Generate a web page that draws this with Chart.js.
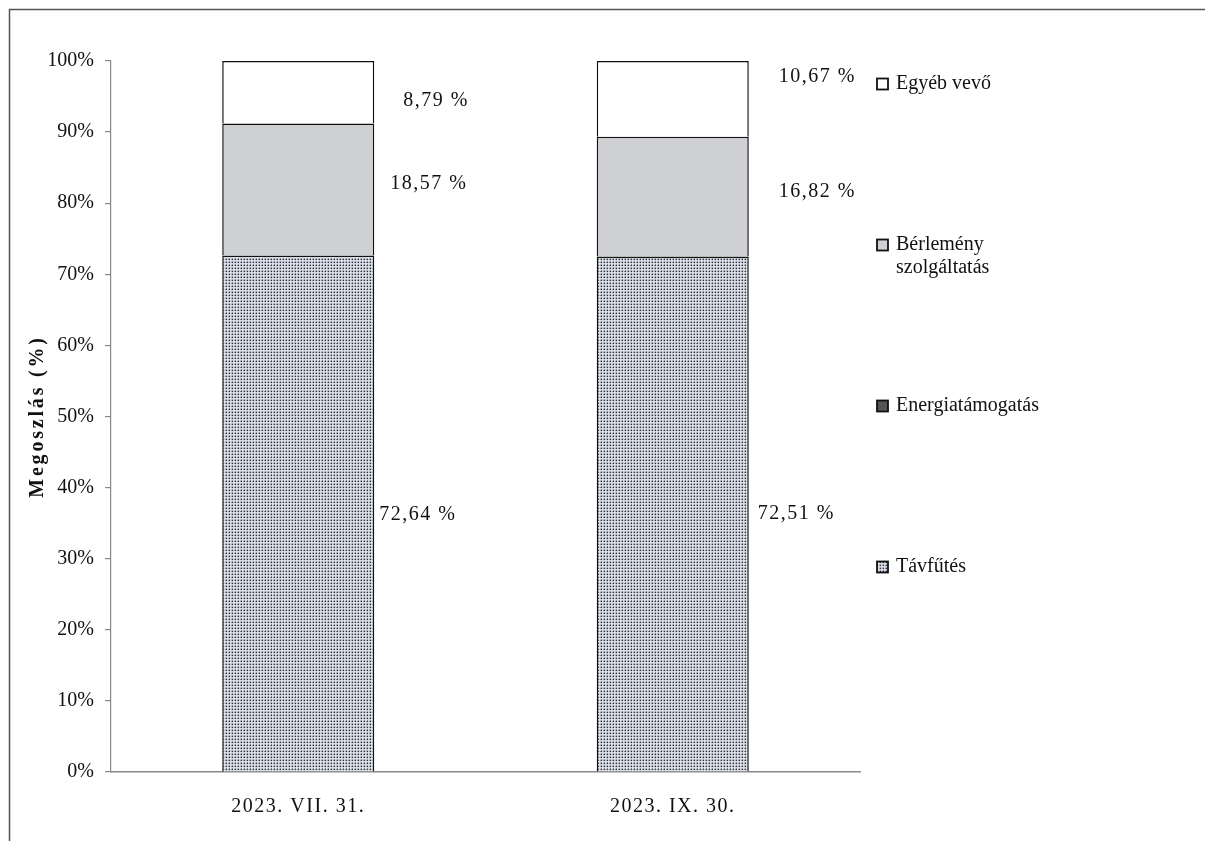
<!DOCTYPE html>
<html>
<head>
<meta charset="utf-8">
<script src="https://cdn.jsdelivr.net/npm/chart.js@4.4.0/dist/chart.umd.min.js"></script>
<style>
html,body{margin:0;padding:0;background:#fff;}
#wrap{position:relative;width:1205px;height:841px;}
</style>
</head>
<body>
<div id="wrap"><canvas id="c" width="1205" height="841"></canvas></div>
<script>
const categories = ['2023. VII. 31.', '2023. IX. 30.'];
const tavfutes = [72.64, 72.51];
const energiatamogatas = [0, 0];
const berlemeny = [18.57, 16.82];
const egyeb = [8.79, 10.67];
const valueLabels = {
  tavfutes: ['72,64 %', '72,51 %'],
  berlemeny: ['18,57 %', '16,82 %'],
  egyeb: ['8,79 %', '10,67 %']
};
const legendNames = [['Egyéb vevő'], ['Bérlemény', 'szolgáltatás'], ['Energiatámogatás'], ['Távfűtés']];
const yTicks = [0,10,20,30,40,50,60,70,80,90,100];

const FONT = '"Liberation Serif", "Times New Roman", serif';

function makeDots() {
  const t = document.createElement('canvas');
  t.width = 3; t.height = 3;
  const g = t.getContext('2d');
  g.fillStyle = '#e0e5ee';
  g.fillRect(0,0,3,3);
  g.fillStyle = '#2c2c38';
  g.fillRect(0.6,0.6,1.5,1.5);
  return document.getElementById('c').getContext('2d').createPattern(t, 'repeat');
}
const dots = makeDots();

const framePlugin = {
  id: 'frame',
  beforeDraw(chart) {
    const ctx = chart.ctx;
    ctx.save();
    ctx.fillStyle = '#fff';
    ctx.fillRect(0,0,chart.width,chart.height);
    ctx.strokeStyle = '#555';
    ctx.lineWidth = 1.5;
    ctx.beginPath();
    ctx.moveTo(9.5, chart.height);
    ctx.lineTo(9.5, 9.5);
    ctx.lineTo(chart.width, 9.5);
    ctx.stroke();
    ctx.restore();
    ctx.letterSpacing = '0px';
  },
  afterDraw(chart) {
    chart.ctx.letterSpacing = '0px';
  }
};

const labelPlugin = {
  id: 'labels',
  afterDatasetsDraw(chart) {
    const ctx = chart.ctx;
    const ys = chart.scales.y;
    ctx.save();
    ctx.font = '20px ' + FONT;
    ctx.letterSpacing = '1.5px';
    ctx.fillStyle = '#111';
    ctx.textBaseline = 'middle';
    ctx.textAlign = 'left';
    const meta0 = chart.getDatasetMeta(0);
    const offsX = [[5, 16, 29], [9, 30, 30]];
    const offsY = [[1, -6, 9], [0, -5, -22]];
    for (let i = 0; i < categories.length; i++) {
      const bar = meta0.data[i];
      const right = bar.x + bar.width / 2;
      const segs = [
        [tavfutes[i] / 2, valueLabels.tavfutes[i]],
        [tavfutes[i] + energiatamogatas[i] + berlemeny[i] / 2, valueLabels.berlemeny[i]],
        [tavfutes[i] + energiatamogatas[i] + berlemeny[i] + egyeb[i] / 2, valueLabels.egyeb[i]]
      ];
      segs.forEach((s, k) => {
        ctx.fillText(s[1], right + offsX[i][k], ys.getPixelForValue(s[0]) + offsY[i][k]);
      });
    }
    // y title
    ctx.save();
    ctx.translate(38, (chart.chartArea.top + chart.chartArea.bottom) / 2);
    ctx.rotate(-Math.PI / 2);
    ctx.textAlign = 'center';
    ctx.letterSpacing = '2.8px';
    ctx.font = 'bold 20px ' + FONT;
    ctx.fillText('Megoszlás (%)', 0, 0);
    ctx.restore();
    // legend
    ctx.letterSpacing = '0px';
    const fills = ['#ffffff', '#cfd0d3', '#555555', dots];
    let y = 84;
    const step = 161;
    for (let k = 0; k < legendNames.length; k++) {
      ctx.fillStyle = fills[k];
      ctx.fillRect(877, y - 5.5, 11, 11);
      ctx.strokeStyle = '#111';
      ctx.lineWidth = 1.8;
      ctx.strokeRect(877, y - 5.5, 11, 11);
      ctx.fillStyle = '#111';
      ctx.font = '20px ' + FONT;
      legendNames[k].forEach((ln, j) => ctx.fillText(ln, 896, y + j * 23));
      y += step;
    }
    ctx.restore();
    // x tick labels are drawn after this hook (ticks z = 1)
    ctx.letterSpacing = '1.5px';
  }
};

new Chart(document.getElementById('c'), {
  type: 'bar',
  data: {
    labels: categories,
    datasets: [
      { label: 'Távfűtés', data: tavfutes, backgroundColor: dots, borderColor: '#111', borderWidth: 1.5 },
      { label: 'Energiatámogatás', data: energiatamogatas, backgroundColor: '#555', borderWidth: 0 },
      { label: 'Bérlemény szolgáltatás', data: berlemeny, backgroundColor: '#cfd0d3', borderColor: '#111', borderWidth: 1.5 },
      { label: 'Egyéb vevő', data: egyeb, backgroundColor: '#ffffff', borderColor: '#111', borderWidth: 1.5 }
    ]
  },
  options: {
    responsive: false,
    animation: false,
    devicePixelRatio: 1,
    layout: { padding: { left: 0, top: 61, right: 345, bottom: 0 } },
    datasets: { bar: { barPercentage: 0.406, categoryPercentage: 1 } },
    plugins: { legend: { display: false }, tooltip: { enabled: false } },
    scales: {
      x: {
        stacked: true,
        grid: { display: false },
        border: { display: true, color: '#888', width: 1.5 },
        ticks: { z: 1, font: { family: FONT, size: 20 }, color: '#111', padding: 15 },
        afterFit(s) { s.height = 69; }
      },
      y: {
        stacked: true,
        min: 0, max: 100,
        afterBuildTicks(s) { s.ticks = yTicks.map(v => ({ value: v })); },
        grid: { drawOnChartArea: false, drawTicks: true, tickLength: 6, color: '#888', lineWidth: 1.2 },
        border: { display: true, color: '#888', width: 1.2 },
        ticks: { font: { family: FONT, size: 20 }, color: '#111', padding: 11, callback: v => v + '%' },
        afterFit(s) { s.width = 111; }
      }
    }
  },
  plugins: [framePlugin, labelPlugin]
});
</script>
</body>
</html>
